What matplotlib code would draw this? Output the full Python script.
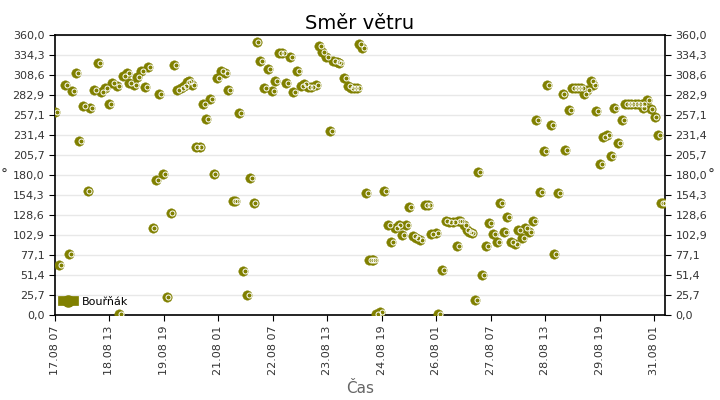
import datetime as dt
import matplotlib
matplotlib.use('Agg')
import matplotlib.pyplot as plt
import matplotlib.dates as mdates
import matplotlib.transforms as mtransforms
from matplotlib.lines import Line2D
import numpy as np

start = dt.datetime(2014, 8, 17, 7, 0)
end = dt.datetime(2014, 8, 31, 7, 0)

# hodiny od zacatku mereni
hours = [0, 2.2, 5.5, 7.7, 9.5, 11.7, 13.2, 15.4, 18.0, 19.4, 21.5, 23.7, 25.5, 27.7,
         29.6, 31.4, 34.0, 35.3, 37.3, 39.5, 40.9, 43.7, 45.2, 47.4, 49.6, 51.4,
         53.8, 55.6, 57.4, 59.7, 61.5, 63.7, 65.5, 67.2, 69.6, 71.2, 72.7, 73.8,
         75.6, 77.5, 79.7, 81.5, 83.3, 85.5, 87.4, 89.4, 91.6, 93.8, 95.5, 97.9,
         99.3, 101.5, 103.4, 105.6, 107.4, 109.4, 111.1, 112.9, 115.1, 117.5,
         119.4, 121.3, 123.5, 125.2, 127.4, 129.6, 131.3, 133.5, 135.5, 137.3,
         139.2, 141.0, 143.6, 145.6, 147.2, 149.3, 151.5, 153.1, 155.2, 156.6,
         159.4, 161.4, 163.0, 164.7, 166.2, 167.4, 169.3, 171.3, 172.8, 174.4,
         175.3, 177.0, 179.0, 181.2, 183.6, 185.2, 187.3, 189.3, 191.3, 193.5,
         195.2, 197.2, 198.8, 201.2, 203.9, 205.3, 207.1, 209.7, 211.0, 213.2,
         215.2, 217.2, 219.4, 221.3, 222.1, 223.2, 225.4, 226.7, 228.0, 229.5,
         231.3, 233.2, 235.4, 237.4, 239.2, 241.4, 243.3, 245.3, 247.3, 249.1,
         251.2, 253.4, 255.0, 257.4, 259.0, 261.1, 263.5, 265.1, 267.1, 269.3,
         271.2, 273.4, 275.0, 277.1, 279.6, 281.1, 283.3, 284.9, 286.4, 288.1,
         289.7, 291.4, 292.9, 295.4, 296.5, 298.0, 300.4, 302.0, 304.1, 306.4,
         308.1, 310.3, 312.2, 313.9, 315.7, 317.5, 319.4, 321.2, 323.2, 323.7,
         326.2, 328.1, 330.3, 332.2, 333.8, 335.1]

direction = [260.6, 63.9, 295.7, 78, 287.6, 310.7, 223.7, 268.3, 159.8, 265.7, 288.9,
             323.6, 286.3, 291.4, 271.3, 297.9, 294.8, 0.9, 306.9, 310.7, 297.9,
             295.7, 305.6, 313.3, 292.7, 318.9, 111.5, 173.6, 283.8, 180.9, 22.7,
             130.7, 321.4, 288.9, 291.4, 294.8, 299.1, 300.4, 295.7, 216, 216,
             271.3, 251.6, 277.3, 180.9, 304.3, 313.3, 310.7, 288.9, 146.2, 146.2,
             259.3, 56.2, 25.3, 175.7, 143.6, 350.6, 326.2, 291.4, 315.9, 287.6,
             300.4, 336.4, 336.4, 297.9, 331.3, 286.3, 313.3, 294, 296.6, 292.7,
             292.7, 295.3, 345.5, 337.7, 331.3, 236.2, 326.2, 324.9, 323.6, 304.3,
             294, 291.4, 291.4, 291.4, 348, 342.9, 156.4, 70.3, 70.3, 70.3, 0.9,
             3.5, 159, 115.3, 93.5, 111.5, 115.3, 102.5, 115.3, 138.5, 101.2, 98.6,
             96, 141, 141, 103.8, 105.1, 0.9, 57.5, 120.5, 119.2, 119.2, 88.3,
             120.5, 120.5, 115.3, 108.9, 106.3, 105, 18.9, 183.5, 51, 88.3, 117.9,
             103.8, 93.5, 143.6, 106.3, 125.6, 93.5, 90.9, 108.9, 98.6, 111.5,
             106.3, 120.5, 250.3, 157.7, 210.5, 295.3, 243.9, 78, 156.4, 283.8,
             211.8, 263.2, 291.4, 291.4, 291.4, 291.4, 283.8, 288.9, 300.4, 295.3,
             261.9, 193.7, 228.5, 231, 204, 265.7, 220.8, 250.3, 270.9, 270.9,
             270.9, 270.9, 270.9, 270.9, 265.7, 276, 264.5, 254.2, 231, 143.6,
             143.6]

times = [start + dt.timedelta(hours=h) for h in hours]
tick_times = [start + dt.timedelta(hours=30 * i) for i in range(12)]
yticks = np.linspace(0, 360, 15)
ylabels = [('%.1f' % v).replace('.', ',') for v in yticks]

olive = '#808000'

fig = plt.figure(figsize=(7.2, 4.0), dpi=100)
ax = fig.add_axes([55 / 720, 1 - 315 / 400, 610 / 720, 280 / 400])

ax.plot(times, direction, linestyle='none', marker='o', ms=6.8, mfc=olive,
        mec=olive, mew=0.3, zorder=3)
shift = mtransforms.offset_copy(ax.transData, fig=fig, x=1.8, y=0.2, units='dots')
ax.plot(times, direction, linestyle='none', marker='o', ms=3.6, mfc='none',
        mec='white', mew=0.7, transform=shift, zorder=4)

ax.set_xlim(start, end)
ax.set_ylim(0, 360)
ax.set_yticks(yticks)
ax.set_yticklabels(ylabels)
ax.set_xticks(tick_times)
ax.xaxis.set_major_formatter(mdates.DateFormatter('%d.%m %H'))
ax.tick_params(axis='x', rotation=90, labelsize=8, length=4)
ax.tick_params(axis='y', labelsize=8, length=4, right=True, labelright=True)
for lab in ax.get_xticklabels() + ax.get_yticklabels():
    lab.set_color('#333333')

ax.grid(axis='y', color='#e8e8e8', lw=1)
ax.set_axisbelow(True)
for sp in ax.spines.values():
    sp.set_color('black')
    sp.set_linewidth(1.2)

ax.set_title('Směr větru', fontsize=14, pad=4)
ax.set_xlabel('Čas', fontsize=11, color='#666666')
fig.text(4 / 720, 1 - 175 / 400, '°', fontsize=10, color='#333333', ha='center', va='center')
fig.text(711 / 720, 1 - 175 / 400, '°', fontsize=10, color='#333333', ha='center', va='center')

handle = Line2D([0], [0], color=olive, lw=7, marker='o', ms=8, mfc=olive, mec=olive)
ax.legend([handle], ['Bouřňák'], loc='lower left', frameon=False, fontsize=8,
          handlelength=1.0, handletextpad=0.7, borderaxespad=0.3)

fig.savefig('out.png', dpi=100)
